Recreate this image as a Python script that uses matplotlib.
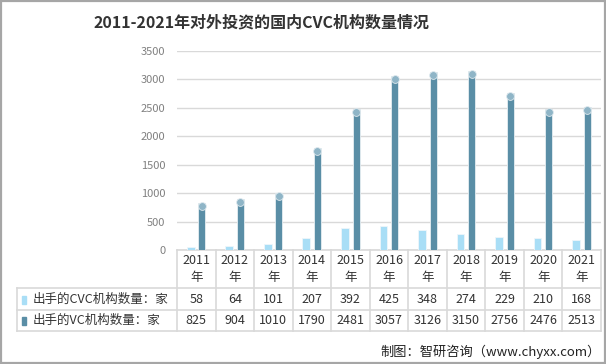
import matplotlib
matplotlib.use("Agg")
import matplotlib.pyplot as plt
from matplotlib.patches import Rectangle
from matplotlib.transforms import blended_transform_factory, ScaledTranslation
import numpy as np

plt.rcParams['font.family'] = ['Noto Sans CJK SC', 'DejaVu Sans']

years = ['2011', '2012', '2013', '2014', '2015', '2016', '2017', '2018', '2019', '2020', '2021']
cvc_counts = [58, 64, 101, 207, 392, 425, 348, 274, 229, 210, 168]
vc_counts = [825, 904, 1010, 1790, 2481, 3057, 3126, 3150, 2756, 2476, 2513]
series_names = ['出手的CVC机构数量：家', '出手的VC机构数量：家']
title = '2011-2021年对外投资的国内CVC机构数量情况'
footer = '制图：智研咨询（www.chyxx.com）'
y_ticks = [0, 500, 1000, 1500, 2000, 2500, 3000, 3500]

W, H = 606, 364
fig = plt.figure(figsize=(W / 100, H / 100), dpi=100)

# overlay axes in pixel coordinates
ov = fig.add_axes([0, 0, 1, 1])
ov.set_xlim(0, W)
ov.set_ylim(H, 0)
ov.axis('off')

# main plot axes
x0, x1, ytop, ybot = 177, 601, 51, 250
ax = fig.add_axes([x0 / W, 1 - ybot / H, (x1 - x0) / W, (ybot - ytop) / H])
ax.set_zorder(2)
ax.patch.set_alpha(0)
n = len(years)
x = np.arange(n)
ax.set_xlim(-0.5, n - 0.5)
ax.set_ylim(0, 3500)
ax.set_yticks(y_ticks)
ax.set_yticklabels([str(v) for v in y_ticks])
ax.tick_params(axis='y', length=0, pad=8.5, labelsize=8, labelcolor='#808080')
ax.set_xticks([])
for s in ax.spines.values():
    s.set_visible(False)
ax.grid(axis='y', color='#d9d9d9', linewidth=1)
ax.set_axisbelow(True)

c_cvc = '#a9def6'
c_vc = '#5a8ea6'
c_cap = '#8fb5c7'
off = 0.145
ax.bar(x - off, cvc_counts, width=0.2, color=c_cvc, edgecolor='#eef6fa', linewidth=0.6, zorder=3)
ax.bar(x + off, vc_counts, width=0.18, color=c_vc, edgecolor='#e6eef2', linewidth=0.6, zorder=3)
cap_tr = ax.transData + ScaledTranslation(0, -3.0 / 100, fig.dpi_scale_trans)
ax.plot(x + off, vc_counts, 'o', ms=5.6, color=c_cap, mec='#dfe9ee', mew=0.6,
        transform=cap_tr, zorder=4, clip_on=False)

# ---- table ----
bt = blended_transform_factory(ax.transData, ov.transData)
grid_c = '#d9d9d9'
lw = 1.2
r_head_top, r_head_bot, r1_bot, r2_bot = 250, 288, 310, 331
lab_left = 17
edges = np.arange(n + 1) - 0.5
ov.plot([x0, x1], [r_head_top, r_head_top], color=grid_c, lw=lw)
for yy in (r_head_bot, r1_bot, r2_bot):
    ov.plot([lab_left, x1], [yy, yy], color=grid_c, lw=lw)
ov.plot([lab_left, lab_left], [r_head_bot, r2_bot], color=grid_c, lw=lw)
for e in edges:
    ov.plot([e, e], [r_head_top, r2_bot], color=grid_c, lw=lw, transform=bt)

for i, yr in enumerate(years):
    ov.text(i, 261, yr, transform=bt, ha='center', va='center', fontsize=9, color='#333333')
    ov.text(i, 277, '年', transform=bt, ha='center', va='center', fontsize=9, color='#333333')
    ov.text(i, 299.5, str(cvc_counts[i]), transform=bt, ha='center', va='center', fontsize=9, color='#333333')
    ov.text(i, 320.5, str(vc_counts[i]), transform=bt, ha='center', va='center', fontsize=9, color='#333333')

ov.add_patch(Rectangle((21.5, 295.5), 4.5, 8, color=c_cvc))
ov.add_patch(Rectangle((21.5, 316.5), 4.5, 8, color=c_vc))
ov.text(33, 299, series_names[0], ha='left', va='center', fontsize=9, color='#333333')
ov.text(33, 320, series_names[1], ha='left', va='center', fontsize=9, color='#333333')

# title and footer
ov.text(261, 22, title, ha='center', va='center', fontsize=11.5, fontweight='bold', color='#333333')
ov.text(601, 352, footer, ha='right', va='center', fontsize=9.5, color='#222222')

# frame
ov.add_patch(Rectangle((1, 1), W - 2, H - 2, fill=False, edgecolor='#a6a6a6', lw=1.6))

fig.savefig('out.png', dpi=100)
